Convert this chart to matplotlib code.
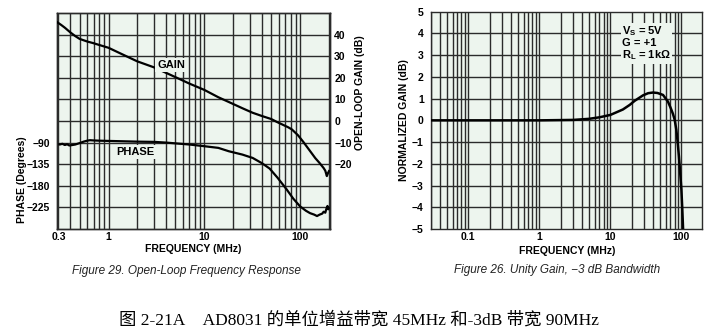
import numpy as np
import matplotlib
matplotlib.use("Agg")
import matplotlib.pyplot as plt
from matplotlib.ticker import FixedLocator, NullFormatter, NullLocator

# open-loop response (left)
ol_freq = [0.29, 0.32, 0.35, 0.4, 0.45, 0.5, 0.6, 0.7, 0.8, 1.0, 1.3, 1.5, 2, 3, 5, 7,
           10, 14, 18, 25, 32, 40, 50, 57, 65, 75, 82, 95, 108, 125, 144, 160,
           176, 183, 190, 195, 200]
ol_gain = [45.8, 44.5, 43.2, 41.0, 39.3, 38.0, 36.8, 36.0, 35.2, 33.9, 31.5, 30.2, 27.6,
           24.8, 20.3, 17.3, 14.4, 11.0, 8.8, 5.9, 3.8, 2.3, 0.9, -0.4, -1.6, -2.9,
           -3.9, -6.6, -9.7, -13.5, -17.2, -19.5, -21.8, -23.0, -25.5, -24.2, -23.2]
ph_freq = [0.29, 0.31, 0.33, 0.35, 0.37, 0.39, 0.42, 0.45, 0.5, 0.55, 0.6, 0.64, 0.7,
           0.8, 1.0, 2, 3, 4, 7, 10, 14, 18, 25, 32, 40, 48, 58, 72, 85, 100,
           115, 127, 140, 150, 160, 170, 176, 183, 188, 193, 197, 200]
ph_deg = [-93, -94, -92.5, -95, -93.5, -96, -95, -94, -91, -88, -86, -85, -85.5,
          -86, -86.5, -88, -88.5, -90, -94, -97.5, -101, -108, -115, -122, -133,
          -144, -163, -187, -207, -223, -232, -237, -240, -243, -240, -238, -234,
          -236, -228, -222, -229, -226]

# unity gain response (right)
ug_freq = [0.03, 0.1, 1, 3, 5, 7, 10, 15, 18.7, 22, 28.8, 34, 39.8, 46, 55.1, 64.7,
           70, 76, 80.5, 84.9, 88.5, 92.3, 96, 100, 103, 105.6]
ug_gain = [0, 0, 0, 0.02, 0.07, 0.14, 0.25, 0.5, 0.71, 0.9, 1.15, 1.25, 1.28, 1.26,
           1.17, 0.86, 0.6, 0.3, 0.02, -0.44, -1.0, -1.66, -2.4, -3.19, -4.1, -5.0]

phase_ticks = [-90, -135, -180, -225]
gain_ticks = [40, 30, 20, 10, 0, -10, -20]
left_xticks = [0.3, 1, 10, 100]
left_xlabels = ["0.3", "1", "10", "100"]
right_xticks = [0.1, 1, 10, 100]
right_xlabels = ["0.1", "1", "10", "100"]
norm_ticks = list(range(-5, 6))

BG = "#edf5ee"
GRID = "#2b2b2b"
SANS = ["Liberation Sans", "DejaVu Sans"]
TS = 7.5


def minus(v):
    return str(v).replace("-", "\u2212")


def log_grid(ax, lo, hi):
    for dec in range(-3, 3):
        for m in range(1, 10):
            f = m * 10.0 ** dec
            if lo < f < hi:
                ax.axvline(f, color=GRID, lw=1.0, zorder=1)


def style_ticks(a):
    for lab in a.get_xticklabels() + a.get_yticklabels():
        lab.set_fontweight("bold")
        lab.set_family(SANS)
    for s in a.spines.values():
        s.set_color(GRID)
        s.set_linewidth(1.0)


fig = plt.figure(figsize=(7.12, 3.32), dpi=100)

# ---------- left: open loop ----------
axp = fig.add_axes([57 / 712, 1 - 229 / 332, 273 / 712, 216 / 332])
axp.set_facecolor(BG)
axp.set_xscale("log")
axp.set_xlim(0.29, 205)
axp.set_ylim(-270, 180)
log_grid(axp, 0.29, 205)
for y in np.arange(-225, 180, 45):
    axp.axhline(y, color=GRID, lw=1.0, zorder=1)
axp.plot(ph_freq, ph_deg, color="black", lw=1.6, zorder=3)
axp.xaxis.set_major_locator(FixedLocator(left_xticks))
axp.set_xticklabels(left_xlabels)
axp.xaxis.set_minor_locator(NullLocator())
axp.yaxis.set_major_locator(FixedLocator(phase_ticks))
axp.set_yticklabels([minus(v) for v in phase_ticks])
axp.tick_params(axis="x", length=0, pad=2.5, labelsize=TS)
axp.tick_params(axis="y", length=0, pad=5, labelsize=TS)

axg = axp.twinx()
axg.set_ylim(-50, 50)
axg.plot(ol_freq, ol_gain, color="black", lw=1.6, zorder=3)
axg.yaxis.set_major_locator(FixedLocator(gain_ticks))
axg.set_yticklabels([minus(v) for v in gain_ticks])
axg.tick_params(length=0, pad=3, labelsize=TS)

style_ticks(axp)
style_ticks(axg)

box = dict(facecolor=BG, edgecolor="none", pad=1.5)
fig.text(135 / 712, 1 - 152 / 332, "PHASE", ha="center", va="center",
         fontsize=8, fontweight="bold", family=SANS, bbox=box, zorder=5)
fig.text(171 / 712, 1 - 65 / 332, "GAIN", ha="center", va="center",
         fontsize=8, fontweight="bold", family=SANS, bbox=box, zorder=5)

fig.text(193 / 712, 1 - 249 / 332, "FREQUENCY (MHz)", ha="center", va="center",
         fontsize=7.5, fontweight="bold", family=SANS)
fig.text(22 / 712, 1 - 180 / 332, "PHASE (Degrees)", ha="center", va="center",
         rotation=90, fontsize=7.5, fontweight="bold", family=SANS)
fig.text(360 / 712, 1 - 93 / 332, "OPEN-LOOP GAIN (dB)", ha="center", va="center",
         rotation=90, fontsize=7.5, fontweight="bold", family=SANS)

# ---------- right: unity gain ----------
axr = fig.add_axes([430.7 / 712, 1 - 229 / 332, 271.3 / 712, 217.3 / 332])
axr.set_facecolor(BG)
axr.set_xscale("log")
axr.set_xlim(0.0295, 195)
axr.set_ylim(-5, 5)
log_grid(axr, 0.0295, 195)
for y in norm_ticks[1:-1]:
    axr.axhline(y, color=GRID, lw=1.0, zorder=1)
axr.plot(ug_freq, ug_gain, color="black", lw=1.8, zorder=3)
axr.xaxis.set_major_locator(FixedLocator(right_xticks))
axr.set_xticklabels(right_xlabels)
axr.xaxis.set_minor_locator(NullLocator())
axr.xaxis.set_minor_formatter(NullFormatter())
axr.yaxis.set_major_locator(FixedLocator(norm_ticks))
axr.set_yticklabels([minus(v) for v in norm_ticks])
axr.tick_params(axis="x", length=0, pad=2.5, labelsize=TS)
axr.tick_params(axis="y", length=0, pad=5, labelsize=TS)
style_ticks(axr)

axr.text(0.705, 0.855, "V$_\\mathregular{S}$ = 5V\nG = +1\nR$_\\mathregular{L}$ = 1k\u03a9",
         transform=axr.transAxes, ha="left", va="center", fontsize=8,
         fontweight="bold", family=SANS, linespacing=1.05,
         bbox=dict(facecolor=BG, edgecolor="none", pad=1.0), zorder=5)

fig.text(567 / 712, 1 - 251 / 332, "FREQUENCY (MHz)", ha="center", va="center",
         fontsize=7.5, fontweight="bold", family=SANS)
fig.text(404 / 712, 1 - 120 / 332, "NORMALIZED GAIN (dB)", ha="center", va="center",
         rotation=90, fontsize=7.5, fontweight="bold", family=SANS)

# ---------- captions ----------
CAP = ["Liberation Sans Narrow", "Liberation Sans"]
fig.text(186 / 712, 1 - 271 / 332, "Figure 29. Open-Loop Frequency Response",
         ha="center", va="center", fontsize=8.5, style="italic", family=CAP, color="#222222")
fig.text(557 / 712, 1 - 270 / 332, "Figure 26. Unity Gain, \u22123 dB Bandwidth",
         ha="center", va="center", fontsize=8.5, style="italic", family=CAP, color="#222222")
fig.text(359 / 712, 1 - 320 / 332,
         "图 2-21A\u3000AD8031 的单位增益带宽 45MHz 和-3dB 带宽 90MHz",
         ha="center", va="center", fontsize=12.5,
         family=["Liberation Serif", "Noto Sans CJK SC"], color="black")

fig.savefig("out.png", dpi=100)
